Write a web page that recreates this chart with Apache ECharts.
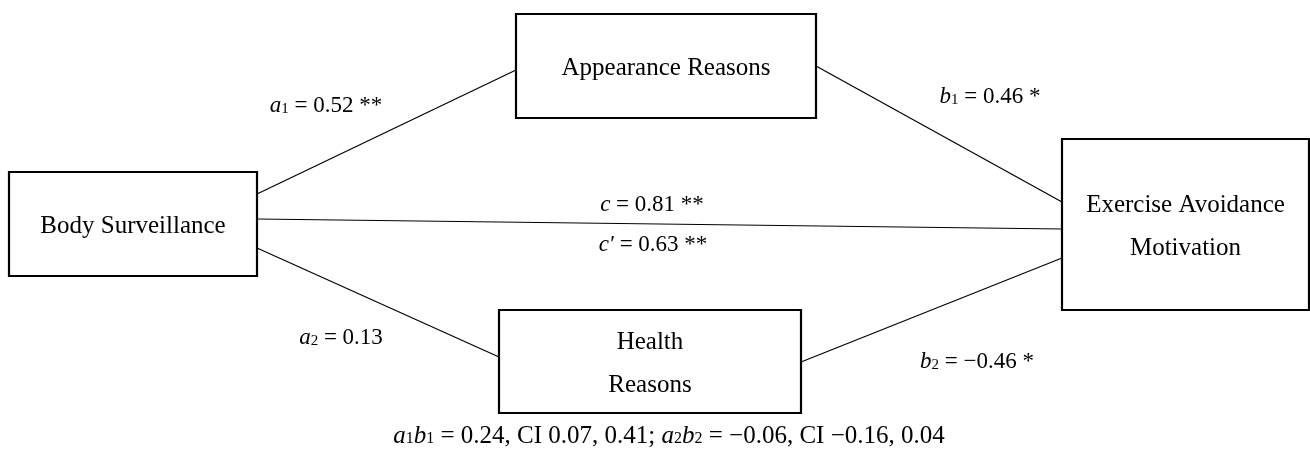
<!DOCTYPE html>
<html>
<head>
<meta charset="utf-8">
<script src="https://cdn.jsdelivr.net/npm/echarts@6/dist/echarts.min.js"></script>
<style>
  html, body { margin: 0; padding: 0; background: #fff; }
  #chart { width: 1310px; height: 451px; }
</style>
</head>
<body>
<div id="chart"></div>
<script>
  // 变量框（左上角 x, y, 右下角 x, y，图上坐标）
  const nodeNames = ['Body Surveillance', 'Appearance Reasons', 'Health\nReasons', 'Exercise Avoidance\nMotivation'];
  const nodeBoxes = [[9, 172, 257, 276], [516, 14, 816, 118], [499, 310, 801, 413], [1062, 139, 1309, 310]];

  // 路径（起点、终点）
  const pathCoords = [
    [[257, 194], [516, 70]],
    [[816, 66], [1062, 202]],
    [[257, 219], [1062, 229]],
    [[257, 248], [499, 357]],
    [[801, 362], [1062, 258]]
  ];

  // 路径系数
  const coefLetter = ['a', 'b', 'c', 'c′', 'a', 'b'];
  const coefSub = ['1', '1', '', '', '2', '2'];
  const coefValue = [0.52, 0.46, 0.81, 0.63, 0.13, -0.46];
  const coefStars = ['**', '*', '**', '**', '', '*'];
  const coefPos = [[326, 106], [990, 97], [652, 205], [653, 245], [341, 338], [977, 362]];

  // 间接效应
  const indLetters = [['a', '1', 'b', '1'], ['a', '2', 'b', '2']];
  const indEst = [0.24, -0.06];
  const indLow = [0.07, -0.16];
  const indHigh = [0.41, 0.04];

  const FONT = '"Liberation Serif", "Times New Roman", serif';

  function fmt(v) {
    return v < 0 ? '−' + Math.abs(v).toFixed(2) : v.toFixed(2);
  }

  function coefLabel(i) {
    let s = '{i|' + coefLetter[i] + '}';
    if (coefSub[i]) s += '{s|' + coefSub[i] + '}';
    s += '{t| = ' + fmt(coefValue[i]);
    if (coefStars[i]) s += ' ' + coefStars[i];
    return s + '}';
  }

  function indirectLabel() {
    let parts = [];
    for (let i = 0; i < indEst.length; i++) {
      let l = indLetters[i];
      parts.push('{I|' + l[0] + '}{S|' + l[1] + '}{I|' + l[2] + '}{S|' + l[3] + '}{T| = ' +
        fmt(indEst[i]) + ', CI ' + fmt(indLow[i]) + ', ' + fmt(indHigh[i]) + (i < indEst.length - 1 ? ';' : '') + '}');
    }
    return parts.join('{T| }');
  }

  const rich = {
    i: { fontStyle: 'italic', fontFamily: FONT, fontSize: 23, color: '#000' },
    s: { fontFamily: FONT, fontSize: 15, color: '#000', padding: [6, 0, 0, 0] },
    t: { fontFamily: FONT, fontSize: 23, color: '#000' },
    I: { fontStyle: 'italic', fontFamily: FONT, fontSize: 25, color: '#000' },
    S: { fontFamily: FONT, fontSize: 16, color: '#000', padding: [6, 0, 0, 0] },
    T: { fontFamily: FONT, fontSize: 25, color: '#000' }
  };

  let labelData = coefPos.map((p, i) => ({
    value: p,
    label: { formatter: coefLabel(i) }
  }));
  labelData.push({
    value: [669, 436],
    label: { formatter: indirectLabel() }
  });

  const chart = echarts.init(document.getElementById('chart'), null, { renderer: 'canvas' });
  chart.setOption({
    backgroundColor: '#fff',
    animation: false,
    grid: { left: 0, right: 0, top: 0, bottom: 0 },
    xAxis: { type: 'value', min: 0, max: 1310, show: false },
    yAxis: { type: 'value', min: 0, max: 451, inverse: true, show: false },
    series: [
      {
        type: 'lines',
        coordinateSystem: 'cartesian2d',
        silent: true,
        z: 1,
        lineStyle: { color: '#000', width: 1.2, opacity: 1 },
        data: pathCoords.map(c => ({ coords: c }))
      },
      {
        type: 'custom',
        z: 2,
        silent: true,
        data: nodeBoxes.map((b, i) => ({ name: nodeNames[i], value: b })),
        renderItem: function (params, api) {
          let p0 = api.coord([api.value(0), api.value(1)]);
          let p1 = api.coord([api.value(2), api.value(3)]);
          let name = nodeNames[params.dataIndex];
          return {
            type: 'group',
            children: [{
              type: 'rect',
              shape: { x: p0[0], y: p0[1], width: p1[0] - p0[0], height: p1[1] - p0[1] },
              style: { fill: '#fff', stroke: '#000', lineWidth: 2.2 }
            }, {
              type: 'text',
              style: {
                text: name,
                x: (p0[0] + p1[0]) / 2,
                y: (p0[1] + p1[1]) / 2 + 2,
                align: 'center',
                verticalAlign: 'middle',
                fontFamily: FONT,
                fontSize: 25,
                lineHeight: 43,
                fill: '#000'
              }
            }]
          };
        }
      },
      {
        type: 'scatter',
        z: 3,
        silent: true,
        symbolSize: 0,
        itemStyle: { color: '#000', opacity: 1 },
        data: labelData,
        label: {
          show: true,
          position: 'inside',
          color: '#000',
          textBorderWidth: 0,
          textBorderColor: 'transparent',
          fontFamily: FONT,
          fontSize: 23,
          rich: rich
        }
      }
    ]
  });
</script>
</body>
</html>
